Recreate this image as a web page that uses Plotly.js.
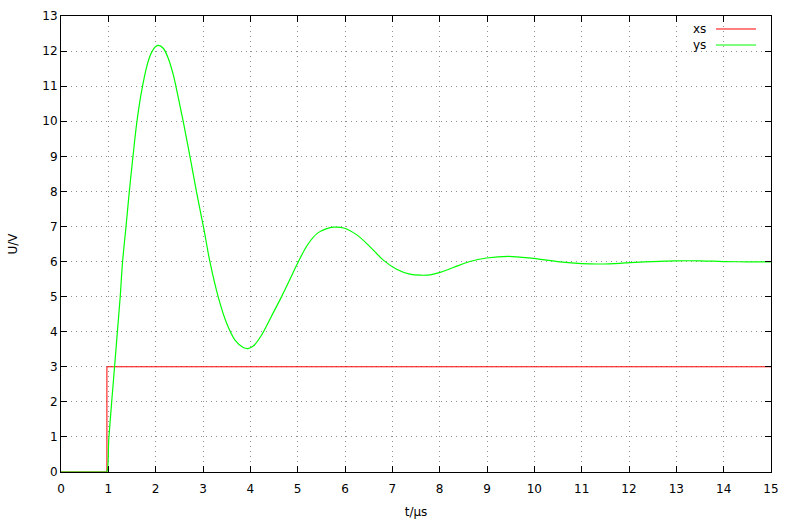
<!DOCTYPE html>
<html>
<head>
<meta charset="utf-8">
<script src="https://cdn.plot.ly/plotly-3.0.1.min.js"></script>
<style>html,body{margin:0;padding:0;background:#fff;}#chart{width:795px;height:520px;}</style>
</head>
<body>
<div id="chart"></div>
<script>
// Input step xs
const xsTime = [0, 0.97, 0.97, 15];
const xsValue = [0, 0, 3, 3];

// Response ys
const ysTime = [0, 0.93, 0.965, 1.01, 1.07, 1.13, 1.19, 1.25, 1.30, 1.37, 1.44, 1.52, 1.60, 1.67, 1.74, 1.81, 1.88, 1.95, 2.00, 2.06, 2.16, 2.267, 2.373, 2.466, 2.58, 2.725, 2.867, 3.02, 3.148, 3.324, 3.50, 3.676, 3.85, 3.944, 4.063, 4.24, 4.45, 4.66, 4.84, 4.99, 5.22, 5.42, 5.60, 5.76, 5.99, 6.25, 6.53, 6.81, 7.09, 7.37, 7.60, 7.80, 8.01, 8.29, 8.64, 8.99, 9.45, 9.98, 10.54, 11.0, 11.39, 11.81, 12.02, 12.5, 13.0, 13.5, 14.0, 14.5, 15.0];
const ysValue = [0, 0, 0, 0.95, 1.98, 2.98, 3.98, 4.98, 5.98, 6.95, 7.95, 8.99, 9.95, 10.6, 11.12, 11.55, 11.86, 12.05, 12.13, 12.16, 12.08, 11.79, 11.32, 10.75, 10.01, 8.99, 7.96, 6.92, 5.98, 4.98, 4.24, 3.76, 3.55, 3.52, 3.59, 3.91, 4.45, 5.0, 5.5, 5.93, 6.5, 6.81, 6.93, 6.98, 6.95, 6.76, 6.42, 6.04, 5.78, 5.64, 5.61, 5.62, 5.69, 5.83, 6.0, 6.1, 6.15, 6.09, 5.99, 5.94, 5.93, 5.95, 5.97, 6.0, 6.02, 6.02, 6.0, 5.99, 5.99];

const seriesNames = ['xs', 'ys'];
const seriesColors = ['#ff0000', '#00ff00'];

const font = {family: 'DejaVu Sans, sans-serif', size: 12, color: '#000'};

const traces = [
  {x: xsTime, y: xsValue, type: 'scatter', mode: 'lines', name: seriesNames[0],
   line: {color: seriesColors[0], width: 1}, hoverinfo: 'skip'},
  {x: ysTime, y: ysValue, type: 'scatter', mode: 'lines', name: seriesNames[1],
   line: {color: seriesColors[1], width: 1.2, shape: 'spline', smoothing: 1}, hoverinfo: 'skip'}
];

const axisCommon = {
  showline: true, linecolor: '#000', linewidth: 1, mirror: 'allticks',
  ticks: 'inside', ticklen: 6, tickcolor: '#000', tickwidth: 1,
  showgrid: true, gridcolor: '#909090', griddash: '1px,4px', gridwidth: 1,
  zeroline: false, tickfont: font
};

// legend drawn gnuplot-style: text on the left, sample line on the right
const legendY = [0.9715, 0.9364];
const annotations = seriesNames.map((n, i) => ({
  xref: 'paper', yref: 'paper', x: 0.9113, y: legendY[i], xanchor: 'right', yanchor: 'middle',
  text: n, showarrow: false, font: font
}));
const shapes = seriesNames.map((n, i) => ({
  type: 'line', xref: 'paper', yref: 'paper', x0: 0.9225, x1: 0.9789, y0: legendY[i], y1: legendY[i],
  line: {color: seriesColors[i], width: 1}
}));

const layout = {
  width: 795, height: 520,
  margin: {l: 61, r: 24, t: 16, b: 48},
  paper_bgcolor: '#fff', plot_bgcolor: '#fff',
  showlegend: false,
  font: font,
  xaxis: Object.assign({}, axisCommon, {range: [0, 15], dtick: 1, tick0: 0, ticklabelstandoff: 6,
    title: {text: 't/µs', font: font, standoff: 12}}),
  yaxis: Object.assign({}, axisCommon, {range: [0, 13], dtick: 1, tick0: 0,
    title: {text: 'U/V', font: font, standoff: 22}}),
  annotations: annotations,
  shapes: shapes
};

Plotly.newPlot('chart', traces, layout, {staticPlot: true, displayModeBar: false});
</script>
</body>
</html>
